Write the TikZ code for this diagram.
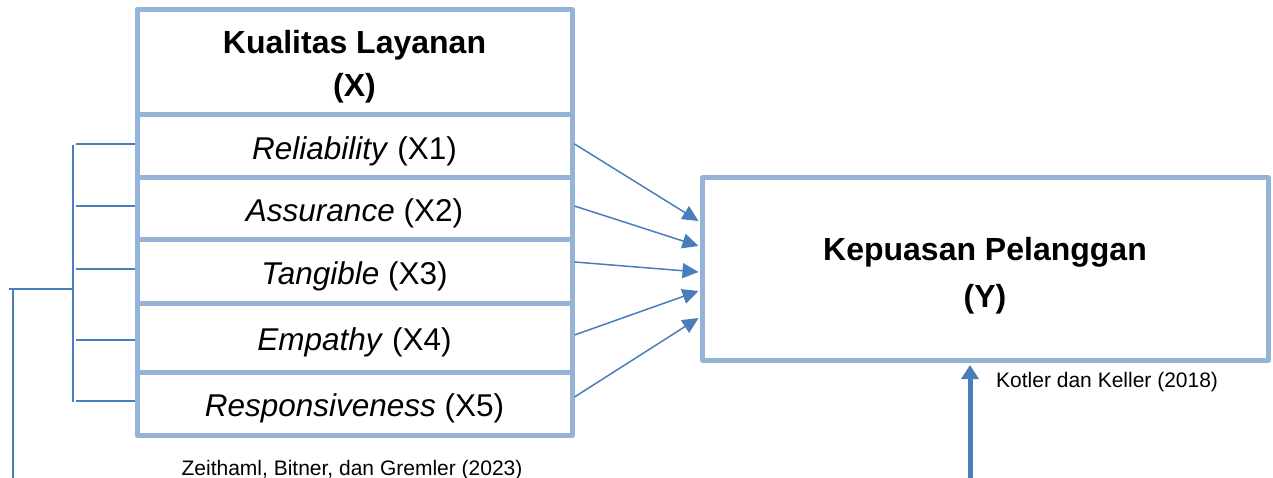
\documentclass[tikz,border=0pt]{standalone}
\usepackage{fontspec}
\setmainfont{Liberation Sans}
\usetikzlibrary{arrows.meta}
\definecolor{boxblue}{HTML}{95B3D7}
\definecolor{linkblue}{HTML}{4A7EBB}
\begin{document}
\begin{tikzpicture}[x=1pt,y=-1pt,
 box/.style={draw=boxblue, line width=5pt, inner sep=0pt, align=center, line join=round},
 rowbox/.style={box, minimum width=435pt, font=\fontsize{31.5}{36}\selectfont, text height=26pt, text depth=0pt},
 textonly/.style={inner sep=0pt, align=center},
 link/.style={draw=linkblue, line width=1.5pt, -{Triangle[length=16pt,width=15pt]}},
 brk/.style={draw=linkblue, line width=2pt},
 cite/.style={font=\fontsize{21}{25}\selectfont, inner sep=0pt}]
\useasboundingbox (0,0) rectangle (1273,478);
% title box
\node[box, minimum width=435pt, minimum height=105pt] (X) at (354.5,62.5) {};
\node[textonly, font=\fontsize{32}{43}\selectfont\bfseries] (Xt) at ([yshift=-4pt]X.center) {Kualitas Layanan\\(X)};
% rows
\node[rowbox, minimum height=63pt] (r1) at (354.5,146.5) {\textit{Reliability} (X1)};
\node[rowbox, minimum height=62pt] (r2) at (354.5,209) {\textit{Assurance} (X2)};
\node[rowbox, minimum height=63pt] (r3) at (354.5,271.5) {\textit{Tangible} (X3)};
\node[rowbox, minimum height=69pt] (r4) at (354.5,337.5) {\textit{Empathy} (X4)};
\node[rowbox, minimum height=63pt] (r5) at (354.5,403.5) {\textit{Responsiveness} (X5)};
% Y box
\node[box, minimum width=566pt, minimum height=182pt] (Y) at (985,269) {};
\node[textonly, font=\fontsize{32}{47}\selectfont\bfseries] (Yt) at ([yshift=-7pt]Y.center) {Kepuasan Pelanggan\\(Y)};
% citations
\node[cite, anchor=base] (c1) at (352,475) {Zeithaml, Bitner, dan Gremler (2023)};
\node[cite, anchor=base west] (c2) at (996,387) {Kotler dan Keller (2018)};
% arrows to Y
\draw[link] ([yshift=2.5pt]r1.east) -- ([yshift=48pt,xshift=-1pt]Y.west);
\draw[link] ([yshift=3pt]r2.east) -- ([yshift=23pt,xshift=-1pt]Y.west);
\draw[link] ([yshift=9.5pt]r3.east) -- ([yshift=-3pt,xshift=-1pt]Y.west);
\draw[link] ([yshift=2.5pt]r4.east) -- ([yshift=-22pt,xshift=-1pt]Y.west);
\draw[link] ([yshift=6.5pt]r5.east) -- ([yshift=-49pt,xshift=-1pt]Y.west);
% bracket
\coordinate (btop) at (73,145);
\coordinate (bbot) at (73,402);
\coordinate (bmid) at (73,289);
\coordinate (lend) at (9,289);
\coordinate (ltop) at (13,289);
\coordinate (lbot) at (13,478);
\draw[brk] (btop) -- (bbot);
\draw[brk] ([yshift=2.5pt]r1.west -| 76,0) -- ([yshift=2.5pt]r1.west);
\draw[brk] ([yshift=3pt]r2.west -| 76,0) -- ([yshift=3pt]r2.west);
\draw[brk] ([yshift=2.5pt]r3.west -| 76,0) -- ([yshift=2.5pt]r3.west);
\draw[brk] ([yshift=-2.5pt]r4.west -| 76,0) -- ([yshift=-2.5pt]r4.west);
\draw[brk] ([yshift=2.5pt]r5.west -| 76,0) -- ([yshift=2.5pt]r5.west);
\draw[brk] (lend) -- (bmid);
\draw[brk] (ltop) -- (lbot);
% bottom arrow
\coordinate (bstart) at (970,478);
\draw[draw=linkblue, line width=5pt, -{Triangle[length=14pt,width=17pt]}] (bstart) -- ([xshift=-15pt,yshift=-2.5pt]Y.south);
\end{tikzpicture}
\end{document}
